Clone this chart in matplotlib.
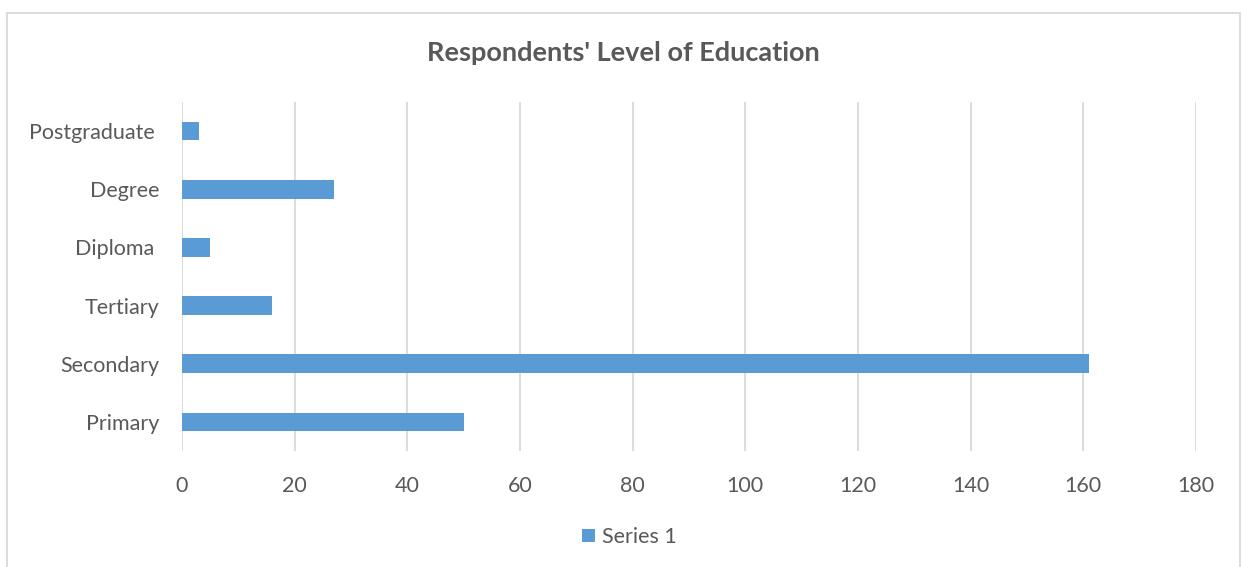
import matplotlib.pyplot as plt
from matplotlib.patches import Rectangle

# data
categories = ["Primary", "Secondary", "Tertiary", "Diploma ", "Degree", "Postgraduate "]
values = [50, 161, 16, 5, 27, 3]
xticks = [0, 20, 40, 60, 80, 100, 120, 140, 160, 180]

plt.rcParams['font.family'] = ['Lato', 'DejaVu Sans']
txt = '#595959'
bar_col = '#5b9bd5'

fig = plt.figure(figsize=(12.46, 5.67), dpi=100)
ax = fig.add_axes([182 / 1246, 1 - 451 / 567, (1196 - 182) / 1246, (451 - 102) / 567])

ax.barh(range(len(categories)), values, height=0.32, color=bar_col, label='Series 1', zorder=3)
ax.set_ylim(-0.5, len(categories) - 0.5)
ax.set_xlim(0, 180)
ax.set_xticks(xticks)
ax.set_yticks(range(len(categories)))
ax.set_yticklabels(categories)
ax.xaxis.grid(True, color='#d9d9d9', linewidth=1.3, zorder=0)
for s in ax.spines.values():
    s.set_visible(False)
ax.tick_params(axis='both', length=0, labelsize=15.5, colors=txt)
ax.tick_params(axis='x', pad=18)
ax.tick_params(axis='y', pad=16)

fig.text(0.5, 1 - 53 / 567, "Respondents' Level of Education", ha='center', va='center',
         fontsize=19.5, fontweight='bold', color=txt)

fig.legend(loc='center', bbox_to_anchor=(0.505, 1 - 537 / 567), frameon=False,
           fontsize=15.5, labelcolor=txt, handlelength=0.6, handleheight=0.6,
           handletextpad=0.3)

# chart border
fig.patches.append(Rectangle((7 / 1246, -0.05), (1240 - 7) / 1246, 1.05 - 13 / 567,
                             transform=fig.transFigure, fill=False,
                             edgecolor='#d9d9d9', linewidth=1.3))

fig.savefig('out.png', dpi=100)
